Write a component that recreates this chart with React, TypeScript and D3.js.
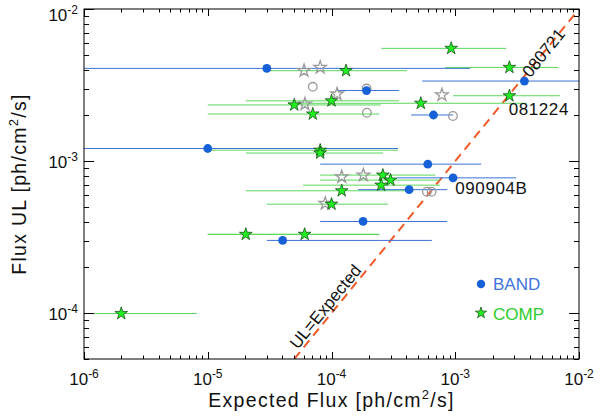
import * as d3 from "d3";
import React, { useEffect, useRef } from "react";

// BAND fits: expected flux, expected range (lo/hi), flux UL
const bandExp = [3.0e-5, 3.62e-3, 1.92e-4, 6.67e-4, 1.0e-5, 6.0e-4, 9.6e-4, 4.24e-4, 1.8e-4, 4.03e-5];
const bandLo = [1e-6, 5.4e-4, 1.11e-4, 4.4e-4, 1e-6, 8.1e-5, 3.39e-4, 1.64e-4, 8.1e-5, 3.0e-5];
const bandHi = [1.32e-3, 2e-2, 3.52e-4, 9.6e-4, 3.45e-4, 1.62e-3, 3.1e-3, 8.6e-4, 8.6e-4, 6.47e-4];
const bandUL = [4.07e-3, 3.36e-3, 2.91e-3, 2.01e-3, 1.21e-3, 9.55e-4, 7.76e-4, 6.49e-4, 4.01e-4, 3.01e-4];

// COMP fits
const compExp = [9.27e-4, 2.74e-3, 1.31e-4, 2.74e-3, 5.27e-4, 1.0e-4, 5.0e-5, 7.06e-5, 8.1e-5, 8.1e-5, 2.6e-4, 3.0e-4, 2.52e-4, 1.21e-4, 1.0e-4, 2.03e-5, 6.07e-5, 2.0e-6];
const compLo = [2.52e-4, 8.28e-4, 3.19e-5, 9.6e-4, 4.5e-5, 2.03e-5, 1.0e-5, 1.0e-5, 1.0e-5, 2.03e-5, 8.1e-5, 8.1e-5, 5.9e-5, 2.03e-5, 3.0e-5, 1.0e-5, 1.0e-5, 1.19e-6];
const compHi = [2.58e-3, 6.8e-3, 4.08e-4, 7.05e-3, 3.8e-3, 3.52e-4, 2.5e-4, 2.43e-4, 3.45e-4, 2.61e-4, 6.9e-4, 7.5e-4, 7.5e-4, 4.57e-4, 2.87e-4, 2.43e-4, 2.43e-4, 8.15e-6];
const compUL = [5.51e-3, 4.13e-3, 3.93e-3, 2.69e-3, 2.4e-3, 2.49e-3, 2.34e-3, 2.04e-3, 1.18e-3, 1.13e-3, 8.09e-4, 7.5e-4, 6.95e-4, 6.38e-4, 5.21e-4, 3.3e-4, 3.3e-4, 9.95e-5];

// open grey markers
const greyStarExp = [6.0e-5, 8.1e-5, 1.11e-4, 6.1e-5, 7.8e-4, 1.21e-4, 1.81e-4, 8.9e-5];
const greyStarUL = [3.93e-3, 4.13e-3, 2.76e-3, 2.37e-3, 2.72e-3, 7.88e-4, 8.09e-4, 5.27e-4];
const greyCircExp = [7.06e-5, 1.93e-4, 9.58e-4, 5.9e-4, 6.44e-4, 1.92e-4];
const greyCircUL = [3.08e-3, 2.08e-3, 1.98e-3, 6.29e-4, 6.29e-4, 3.0e-3];

// GRB name labels placed in data coords
const grbNames = ["081224", "090904B"];
const grbX = [2.7e-3, 1.0e-3];
const grbY = [2.0e-3, 6.07e-4];

const FONT = "'Liberation Sans', Arial, sans-serif";

const App: React.FC = () => {
  const ref = useRef<SVGSVGElement>(null);

  useEffect(() => {
    const svg = d3.select(ref.current);
    svg.selectAll("*").remove();

    const x = d3.scaleLog().domain([1e-6, 1e-2]).range([84, 579]);
    const y = d3.scaleLog().domain([5e-5, 1e-2]).range([359, 9]);
    const [x0, x1] = x.range();
    const [y0, y1] = y.range();

    svg.append("rect").attr("width", 600).attr("height", 416).attr("fill", "#fff");

    svg
      .append("defs")
      .append("clipPath")
      .attr("id", "plotclip")
      .append("rect")
      .attr("x", x0)
      .attr("y", y1)
      .attr("width", x1 - x0)
      .attr("height", y0 - y1);

    const plot = svg.append("g").attr("clip-path", "url(#plotclip)");

    // y = x line
    plot
      .append("line")
      .attr("x1", x(5e-5))
      .attr("y1", y(5e-5))
      .attr("x2", x(1e-2))
      .attr("y2", y(1e-2))
      .attr("stroke", "#f05a28")
      .attr("stroke-width", 2)
      .attr("stroke-dasharray", "9,6");

    // error bars
    plot
      .selectAll(".cbar")
      .data(compExp)
      .join("line")
      .attr("x1", (_, i) => x(compLo[i]))
      .attr("x2", (_, i) => x(compHi[i]))
      .attr("y1", (_, i) => y(compUL[i]))
      .attr("y2", (_, i) => y(compUL[i]))
      .attr("stroke", "#5cd85c")
      .attr("stroke-width", 1);

    plot
      .selectAll(".bbar")
      .data(bandExp)
      .join("line")
      .attr("x1", (_, i) => x(bandLo[i]))
      .attr("x2", (_, i) => x(bandHi[i]))
      .attr("y1", (_, i) => y(bandUL[i]))
      .attr("y2", (_, i) => y(bandUL[i]))
      .attr("stroke", "#3c72d8")
      .attr("stroke-width", 1);

    const star = d3.symbol().type(d3.symbolStar).size(50);

    // grey open markers
    plot
      .selectAll(".gs")
      .data(greyStarExp)
      .join("path")
      .attr("d", star)
      .attr("transform", (d, i) => `translate(${x(d)},${y(greyStarUL[i])})`)
      .attr("fill", "none")
      .attr("stroke", "#9a9a9a")
      .attr("stroke-width", 1.3);

    plot
      .selectAll(".gc")
      .data(greyCircExp)
      .join("circle")
      .attr("cx", (d) => x(d))
      .attr("cy", (_, i) => y(greyCircUL[i]))
      .attr("r", 4.3)
      .attr("fill", "none")
      .attr("stroke", "#9a9a9a")
      .attr("stroke-width", 1.3);

    plot
      .selectAll(".bc")
      .data(bandExp)
      .join("circle")
      .attr("cx", (d) => x(d))
      .attr("cy", (_, i) => y(bandUL[i]))
      .attr("r", 4.4)
      .attr("fill", "#1660d8");

    plot
      .selectAll(".cs")
      .data(compExp)
      .join("path")
      .attr("d", star)
      .attr("transform", (d, i) => `translate(${x(d)},${y(compUL[i])})`)
      .attr("fill", "#22ee22")
      .attr("stroke", "#0d3d0d")
      .attr("stroke-width", 0.7);

    // frame
    svg
      .append("rect")
      .attr("x", x0)
      .attr("y", y1)
      .attr("width", x1 - x0)
      .attr("height", y0 - y1)
      .attr("fill", "none")
      .attr("stroke", "#000")
      .attr("stroke-width", 1);

    const isMajor = (v: number) => Math.abs(Math.log10(v) - Math.round(Math.log10(v))) < 1e-6;
    const ticks = svg.append("g").attr("stroke", "#000").attr("stroke-width", 1);

    x.ticks().forEach((v) => {
      const len = isMajor(v) ? 7 : 3.5;
      const px = Math.round(x(v)) + 0.5;
      ticks.append("line").attr("x1", px).attr("x2", px).attr("y1", y0).attr("y2", y0 - len);
      ticks.append("line").attr("x1", px).attr("x2", px).attr("y1", y1).attr("y2", y1 + len);
    });
    y.ticks().forEach((v) => {
      const len = isMajor(v) ? 10 : 5;
      const py = Math.round(y(v)) + 0.5;
      ticks.append("line").attr("x1", x0).attr("x2", x0 + len).attr("y1", py).attr("y2", py);
      ticks.append("line").attr("x1", x1).attr("x2", x1 - len).attr("y1", py).attr("y2", py);
    });

    // tick labels
    const powLabel = (g: any, v: number) => {
      g.append("tspan").text("10");
      g.append("tspan")
        .attr("dy", -7)
        .attr("font-size", 12)
        .text(String(Math.round(Math.log10(v))));
    };
    x.ticks()
      .filter(isMajor)
      .forEach((v) => {
        const t = svg
          .append("text")
          .attr("x", x(v))
          .attr("y", 385)
          .attr("text-anchor", "middle")
          .attr("font-family", FONT)
          .attr("font-size", 17)
          .attr("fill", "#111");
        powLabel(t, v);
      });
    y.ticks()
      .filter(isMajor)
      .forEach((v) => {
        const t = svg
          .append("text")
          .attr("x", 78)
          .attr("y", Math.max(y(v) + 7, 21))
          .attr("text-anchor", "end")
          .attr("font-family", FONT)
          .attr("font-size", 17)
          .attr("fill", "#111");
        powLabel(t, v);
      });

    // axis titles
    const title = (t: any, head: string) => {
      t.append("tspan").text(head + " [ph/cm");
      t.append("tspan").attr("dy", -8).attr("font-size", 13).text("2");
      t.append("tspan").attr("dy", 8).text("/s]");
    };
    const xt = svg
      .append("text")
      .attr("x", (x0 + x1) / 2)
      .attr("y", 407)
      .attr("text-anchor", "middle")
      .attr("font-family", FONT)
      .attr("font-size", 19.5)
      .attr("letter-spacing", 1.3)
      .attr("fill", "#111");
    title(xt, "Expected Flux");
    const yt = svg
      .append("text")
      .attr("transform", `translate(26,${(y0 + y1) / 2}) rotate(-90)`)
      .attr("text-anchor", "middle")
      .attr("font-family", FONT)
      .attr("font-size", 19.5)
      .attr("letter-spacing", 1.3)
      .attr("fill", "#111");
    title(yt, "Flux UL");

    // labels along the y = x line
    const ang = (Math.atan2(y(1e-2) - y(1e-3), x(1e-2) - x(1e-3)) * 180) / Math.PI;
    svg
      .append("text")
      .attr("transform", `translate(${x(5.16e-3)},${y(5.16e-3)}) rotate(${ang})`)
      .attr("text-anchor", "middle")
      .attr("dy", "0.35em")
      .attr("font-family", FONT)
      .attr("font-size", 17)
      .attr("fill", "#111")
      .text("080721");
    svg
      .append("text")
      .attr("transform", `translate(${x(5.56e-5)},${y(5.56e-5)}) rotate(${ang})`)
      .attr("dy", -3)
      .attr("font-family", FONT)
      .attr("font-size", 17)
      .attr("fill", "#111")
      .text("UL=Expected");

    grbNames.forEach((n, i) => {
      svg
        .append("text")
        .attr("x", x(grbX[i]))
        .attr("y", y(grbY[i]))
        .attr("font-family", FONT)
        .attr("font-size", 17)
        .attr("letter-spacing", 0.6)
        .attr("fill", "#111")
        .text(n);
    });

    // legend
    const lg = svg.append("g").attr("font-family", FONT).attr("font-size", 17);
    lg.append("circle").attr("cx", 481).attr("cy", 284).attr("r", 4.2).attr("fill", "#1660d8");
    lg.append("text").attr("x", 493).attr("y", 290).attr("fill", "#3d74dc").text("BAND");
    lg.append("path")
      .attr("d", d3.symbol().type(d3.symbolStar).size(40)())
      .attr("transform", "translate(481,313)")
      .attr("fill", "#22ee22")
      .attr("stroke", "#0d3d0d")
      .attr("stroke-width", 0.7);
    lg.append("text").attr("x", 493).attr("y", 320).attr("fill", "#2ccc2c").text("COMP");
  }, []);

  return (
    <svg
      ref={ref}
      width={600}
      height={416}
      style={{ position: "absolute", left: 0, top: 0 }}
    />
  );
};

export default App;
